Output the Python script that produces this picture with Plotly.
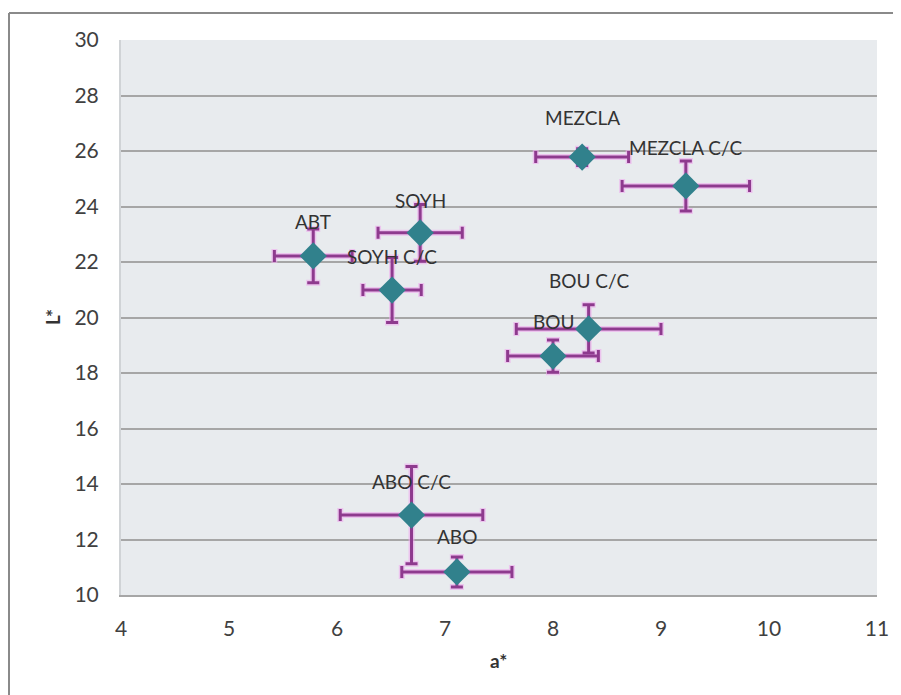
import plotly.graph_objects as go

# ---- data ----
samples = ["ABT", "SOYH", "SOYH C/C", "MEZCLA", "MEZCLA C/C", "BOU C/C", "BOU", "ABO C/C", "ABO"]
a_star = [5.78, 6.77, 6.51, 8.27, 9.23, 8.33, 8.00, 6.69, 7.11]
L_star = [22.22, 23.05, 20.99, 25.78, 24.74, 19.59, 18.61, 12.88, 10.83]
a_err = [0.36, 0.39, 0.27, 0.43, 0.59, 0.67, 0.42, 0.66, 0.51]
L_err = [0.97, 1.02, 1.17, 0.30, 0.90, 0.87, 0.58, 1.75, 0.54]

x_ticks = [4, 5, 6, 7, 8, 9, 10, 11]
y_ticks = [10, 12, 14, 16, 18, 20, 22, 24, 26, 28, 30]

# label offsets above each point (px)
label_shift = {"ABT": 34, "SOYH": 32, "SOYH C/C": 34, "MEZCLA": 40, "MEZCLA C/C": 38,
               "BOU C/C": 48, "BOU": 35, "ABO C/C": 34, "ABO": 35}

FONT = "Lato, 'Open Sans', sans-serif"
ERR = "#8E3A8E"
GLOW = "rgba(238,170,238,0.6)"
TEAL = "#31818C"

fig = go.Figure()
# soft glow under the error bars
fig.add_trace(go.Scatter(
    x=a_star, y=L_star, mode="markers",
    marker=dict(size=1, color="rgba(0,0,0,0)"),
    error_x=dict(type="data", array=a_err, color=GLOW, thickness=6, width=7),
    error_y=dict(type="data", array=L_err, color=GLOW, thickness=6, width=7),
    hoverinfo="skip", showlegend=False))
fig.add_trace(go.Scatter(
    x=a_star, y=L_star, mode="markers", text=samples,
    marker=dict(symbol="diamond", size=21, color=TEAL, line=dict(width=0)),
    error_x=dict(type="data", array=a_err, color=ERR, thickness=3, width=6),
    error_y=dict(type="data", array=L_err, color=ERR, thickness=3, width=6),
    showlegend=False))

for s, xv, yv in zip(samples, a_star, L_star):
    fig.add_annotation(x=xv, y=yv, text=s, showarrow=False, yshift=label_shift[s],
                       font=dict(family=FONT, size=19, color="#333333"),
                       xanchor="center", yanchor="middle")

# page offset (body margin) and screenshot pixel geometry
OFF = 8
W, H = 901, 695
PL, PR, PT, PB = 121, 877, 40, 595  # plot area in screenshot pixels
L, T = PL - OFF, PT - OFF
R, B = W - (PR - OFF), H - (PB - OFF)
pw, ph = PR - PL, PB - PT

def px(xs):
    return (xs - PL) / pw

def py(ys):
    return (PB - ys) / ph

# outer chart frame (top and left edges only visible)
for x0, y0, x1, y1 in [(9, 13, 1000, 13), (9, 13, 9, 800)]:
    fig.add_shape(type="line", xref="paper", yref="paper",
                  x0=px(x0), x1=px(x1), y0=py(y0), y1=py(y1),
                  line=dict(color="#8A8A8A", width=2), layer="below")

fig.add_annotation(xref="paper", yref="paper", x=px(498), y=py(660),
                   text="<b>a*</b>", showarrow=False, yanchor="middle",
                   font=dict(family=FONT, size=19, color="#333333"))
fig.add_annotation(xref="paper", yref="paper", x=px(52), y=py(317), xanchor="center",
                   text="<b>L*</b>", showarrow=False, textangle=-90,
                   font=dict(family=FONT, size=19, color="#333333"))

fig.update_layout(
    width=W, height=H,
    margin=dict(l=L, r=R, t=T, b=B),
    paper_bgcolor="white", plot_bgcolor="#E8EBEE",
    font=dict(family=FONT, size=21, color="#404040"),
    xaxis=dict(range=[4, 11], tickvals=x_ticks, showgrid=False, zeroline=False,
               showline=True, linecolor="#A6A6A6", linewidth=1.5,
               ticks="outside", ticklen=14, tickcolor="rgba(0,0,0,0)",
               tickfont=dict(family=FONT, size=21, color="#404040")),
    yaxis=dict(range=[10, 30], tickvals=y_ticks, showgrid=True, gridcolor="#A6A6A6",
               gridwidth=1.5, zeroline=False, showline=True, linecolor="#D0D3D6",
               linewidth=2, ticks="outside", ticklen=16, tickcolor="rgba(0,0,0,0)",
               tickfont=dict(family=FONT, size=21, color="#404040")),
)

fig.write_html("out.html")
